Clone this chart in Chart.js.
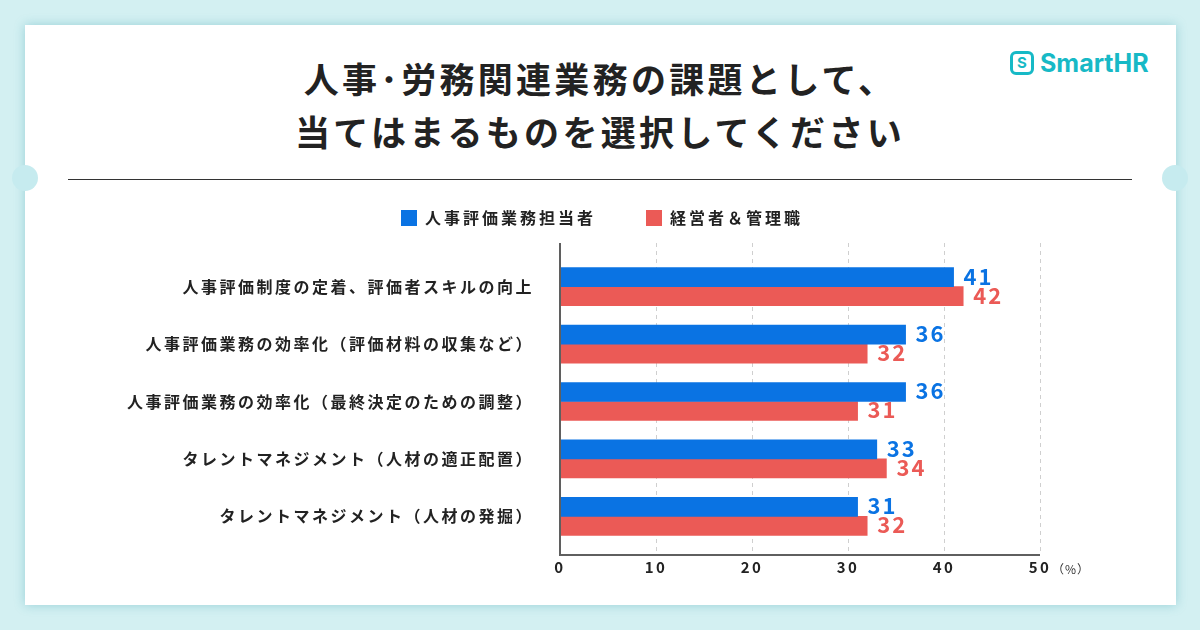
<!DOCTYPE html>
<html>
<head>
<meta charset="utf-8">
<script src="https://cdn.jsdelivr.net/npm/chart.js@4/dist/chart.umd.min.js"></script>
<style>
  html, body { margin: 0; padding: 0; }
  body { width: 1200px; height: 630px; background: #d3f0f2; position: relative; overflow: hidden;
         font-family: "Noto Sans CJK JP", sans-serif; }
  .card { position: absolute; left: 25px; top: 25px; width: 1151px; height: 580px; background: #fff;
          box-shadow: 0 0 10px rgba(40, 150, 165, 0.35); }
  .notch { position: absolute; top: 165px; width: 26px; height: 26px; border-radius: 50%;
           background: #c6ebef; }
  .title { position: absolute; left: 0; top: 51px; width: 1200px; text-align: center; color: #222;
           font-size: 35px; font-weight: 700; line-height: 53px; letter-spacing: 3.3px; }
  .rule { position: absolute; left: 68px; top: 179px; width: 1064px; height: 1px; background: #333; }
  .logo { position: absolute; left: 1010px; top: 48px; display: flex; align-items: center; color: #17b9c6; }
  .logo .mark { width: 18px; height: 18px; border: 3px solid #17b9c6; border-radius: 6px;
                font: 700 15px Inter, sans-serif; text-align: center; line-height: 18px; margin-right: 6px; }
  .logo .name { font: 700 25px Inter, sans-serif; }
  canvas { position: absolute; left: 0; top: 0; }
</style>
</head>
<body>
<div class="card"></div>
<div class="notch" style="left:12px"></div>
<div class="notch" style="left:1162px"></div>
<div class="title">人事･労務関連業務の課題として、<br>当てはまるものを選択してください</div>
<div class="logo"><div class="mark">S</div><div class="name">SmartHR</div></div>
<div class="rule"></div>
<canvas id="chart" width="1200" height="630"></canvas>
<script>
const categories = [
  "人事評価制度の定着、評価者スキルの向上",
  "人事評価業務の効率化（評価材料の収集など）",
  "人事評価業務の効率化（最終決定のための調整）",
  "タレントマネジメント（人材の適正配置）",
  "タレントマネジメント（人材の発掘）"
];
const hrStaff = [41, 36, 36, 33, 31];
const executives = [42, 32, 31, 34, 32];
const xTicks = [0, 10, 20, 30, 40, 50];

const BLUE = "#0a73e3";
const RED = "#eb5a56";
const FONT = '"Noto Sans CJK JP", sans-serif';

// legend spacing, grid, axis lines, value labels, unit
const decor = {
  id: "decor",
  beforeUpdate(chart) {
    const legend = chart.legend;
    if (legend && !legend._patched) {
      legend._patched = true;
      const fit = legend.fit;
      legend.fit = function() {
        fit.call(this);
        this.height += 22;
      };
      const draw = legend.draw;
      legend.draw = function() {
        chart.ctx.save();
        chart.ctx.letterSpacing = "3px";
        draw.apply(this, arguments);
        chart.ctx.restore();
      };
    }
  },
  afterLayout(chart) {
    // center the legend on the whole card, not only on the plot
    chart.legend.left = -44;
    chart.legend.right = 1200;
    chart.legend.width = 1244;
  },
  beforeDraw(chart) {
    chart.ctx.letterSpacing = "2.5px";
  },
  beforeDatasetsDraw(chart) {
    const ctx = chart.ctx;
    const x = chart.scales.x;
    const area = chart.chartArea;
    ctx.save();
    ctx.strokeStyle = "#cfcfcf";
    ctx.lineWidth = 1;
    ctx.setLineDash([4, 4]);
    xTicks.slice(1).forEach(function(v) {
      let px = Math.round(x.getPixelForValue(v)) + 0.5;
      ctx.beginPath();
      ctx.moveTo(px, area.top - 15);
      ctx.lineTo(px, area.bottom + 10);
      ctx.stroke();
    });
    ctx.restore();
  },
  afterDatasetsDraw(chart) {
    const ctx = chart.ctx;
    const x = chart.scales.x;
    const area = chart.chartArea;
    ctx.save();
    ctx.strokeStyle = "#5f5f5f";
    ctx.lineWidth = 2;
    ctx.beginPath();
    ctx.moveTo(area.left, area.top - 15);
    ctx.lineTo(area.left, area.bottom + 10);
    ctx.lineTo(x.getPixelForValue(50), area.bottom + 10);
    ctx.stroke();

    ctx.font = "700 22px " + FONT;
    ctx.textBaseline = "middle";
    ctx.textAlign = "left";
    ctx.letterSpacing = "2px";
    chart.data.datasets.forEach(function(ds, i) {
      chart.getDatasetMeta(i).data.forEach(function(bar, j) {
        ctx.fillStyle = ds.backgroundColor;
        ctx.fillText(ds.data[j], bar.x + 10, bar.y - 1);
      });
    });

    ctx.font = "400 12px " + FONT;
    ctx.fillStyle = "#333";
    ctx.letterSpacing = "1px";
    ctx.fillText("（%）", x.getPixelForValue(50) + 12, area.bottom + 24);
    ctx.restore();
  },
  afterDraw(chart) {
    chart.ctx.letterSpacing = "0px";
  }
};

new Chart(document.getElementById("chart"), {
  type: "bar",
  data: {
    labels: categories,
    datasets: [
      { label: "人事評価業務担当者", data: hrStaff, backgroundColor: BLUE, barThickness: 19 },
      { label: "経営者＆管理職", data: executives, backgroundColor: RED, barThickness: 19 }
    ]
  },
  options: {
    indexAxis: "y",
    responsive: false,
    animation: false,
    layout: { padding: { top: 160, right: 160, bottom: 49, left: 0 } },
    plugins: {
      tooltip: { enabled: false },
      legend: {
        position: "top",
        labels: {
          boxWidth: 16, boxHeight: 16, padding: 50, color: "#222",
          font: { family: FONT, size: 16, weight: 700 }
        }
      }
    },
    scales: {
      x: {
        min: 0, max: 50,
        border: { display: false },
        grid: { display: false },
        afterBuildTicks(scale) { scale.ticks = xTicks.map(v => ({ value: v })); },
        ticks: { padding: 5, color: "#222", font: { family: FONT, size: 15, weight: 700 } }
      },
      y: {
        border: { display: false },
        grid: { display: false },
        afterFit(scale) { scale.width = 560; },
        ticks: { padding: 18, color: "#222", font: { family: FONT, size: 16, weight: 700 } }
      }
    }
  },
  plugins: [decor]
});
</script>
</body>
</html>
